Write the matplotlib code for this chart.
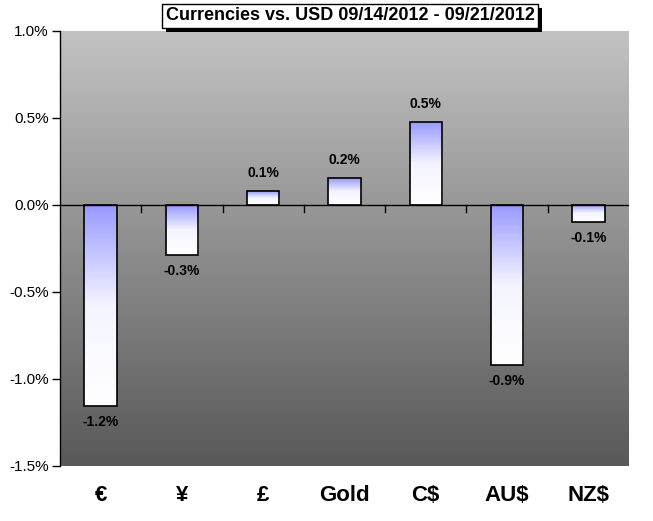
import matplotlib
matplotlib.use('Agg')
import matplotlib.pyplot as plt
import matplotlib.patheffects as pe
from matplotlib.colors import LinearSegmentedColormap
import numpy as np

categories = ['€', '¥', '£', 'Gold', 'C$', 'AU$', 'NZ$']
changes = [-1.155, -0.287, 0.078, 0.155, 0.477, -0.92, -0.098]
y_ticks = [1.0, 0.5, 0.0, -0.5, -1.0, -1.5]
title = 'Currencies vs. USD 09/14/2012 - 09/21/2012'

plt.rcParams['font.family'] = ['Liberation Sans', 'DejaVu Sans']

dpi = 100
fig = plt.figure(figsize=(653 / dpi, 521 / dpi), dpi=dpi)
ax = fig.add_axes([60 / 653, 55 / 521, 569 / 653, 435 / 521])

x = np.arange(len(categories))
ax.set_xlim(-0.5, len(categories) - 0.5)
ax.set_ylim(-1.5, 1.0)

# grey gradient background of the plot area
bg = LinearSegmentedColormap.from_list('bg', ['#595959', '#c2c2c2'])
ax.imshow(np.linspace(0, 1, 256).reshape(-1, 1), cmap=bg, aspect='auto',
          extent=[-0.5, len(categories) - 0.5, -1.5, 1.0], origin='lower', zorder=0)

# bars: blue at top fading to white at bottom
bar_cmap = LinearSegmentedColormap.from_list('bar', ['#ffffff', '#f4f4ff', '#9999ff'])
width = 0.4
bars = ax.bar(x, changes, width=width, facecolor='none', edgecolor='black',
              linewidth=1.2, zorder=3)
for rect in bars:
    x0, y0 = rect.get_x(), rect.get_y()
    w, h = rect.get_width(), rect.get_height()
    y_lo, y_hi = min(y0, y0 + h), max(y0, y0 + h)
    im = ax.imshow(np.linspace(0, 1, 256).reshape(-1, 1), cmap=bar_cmap, aspect='auto',
                   extent=[x0, x0 + w, y_lo, y_hi], origin='lower', zorder=2)
    im.set_clip_path(rect)

# value labels
for xi, v in zip(x, changes):
    label = '{0:.1f}%'.format(v)
    if v >= 0:
        ax.text(xi, v + 0.065, label, ha='center', va='bottom', fontsize=10,
                fontweight='bold', zorder=4)
    else:
        ax.text(xi, v - 0.05, label, ha='center', va='top', fontsize=10,
                fontweight='bold', zorder=4)

# zero line with category separator ticks
ax.axhline(0, color='black', linewidth=1, zorder=4)
for b in np.arange(0.5, len(categories) - 0.5, 1):
    ax.plot([b, b], [0, -0.04], color='black', linewidth=1, zorder=4, clip_on=False)

for side in ['top', 'right', 'bottom']:
    ax.spines[side].set_visible(False)
ax.spines['left'].set_linewidth(1)

ax.set_yticks(y_ticks)
ax.set_yticklabels(['{0:.1f}%'.format(t) for t in y_ticks], fontsize=11)
ax.tick_params(axis='y', direction='out', length=6, width=1, pad=2)
ax.set_xticks(x)
ax.set_xticklabels(categories, fontsize=16, fontweight='bold')
ax.tick_params(axis='x', length=0, pad=13.5)

t = fig.text(350 / 653, 1 - 16 / 521, title, ha='center', va='center', fontsize=13,
             fontweight='bold',
             bbox=dict(boxstyle='square,pad=0.2', fc='white', ec='black', lw=1))
t.get_bbox_patch().set_path_effects([pe.SimplePatchShadow(offset=(3, -3), shadow_rgbFace='black', alpha=1),
                                     pe.Normal()])

fig.savefig('out.png', dpi=dpi)
